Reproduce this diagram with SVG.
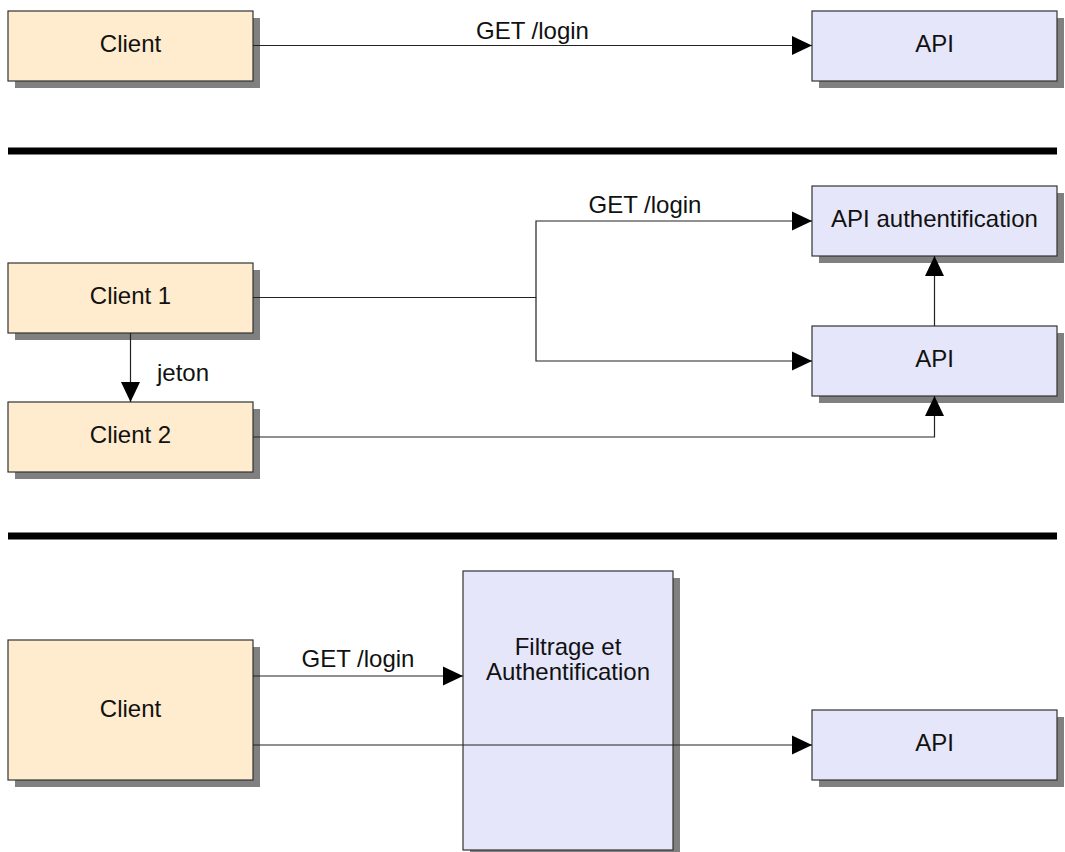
<svg xmlns="http://www.w3.org/2000/svg" width="1065" height="852" viewBox="0 0 1065 852">
  <style>
    .shadow { fill: #808080; }
    .client { fill: #ffebcd; stroke: #333333; stroke-width: 1.2; }
    .api { fill: #e6e6fa; stroke: #333333; stroke-width: 1.2; }
    .lbl { font-family: "Liberation Sans", Arial, sans-serif; font-size: 24px; fill: #111111; text-anchor: middle; }
    .edge { fill: none; stroke: #222222; stroke-width: 1.2; }
    .sep { stroke: #000000; stroke-width: 7; }
  </style>
  <defs>
    <marker id="arr" viewBox="0 0 20 20" refX="20" refY="10" markerWidth="20" markerHeight="20" markerUnits="userSpaceOnUse" orient="auto">
      <path d="M0,0.5 L20,10 L0,19.5 Z" fill="#000000"/>
    </marker>
  </defs>

  <g id="separators">
    <line class="sep" x1="8" y1="151" x2="1057" y2="151"/>
    <line class="sep" x1="8" y1="536" x2="1057" y2="536"/>
  </g>

  <!-- Section 1 -->
  <g id="client-top">
    <rect class="shadow" x="15" y="18" width="245" height="70"/>
    <rect class="client" x="8" y="11" width="245" height="70"/>
    <text class="lbl" x="130.5" y="52">Client</text>
  </g>
  <g id="api-top">
    <rect class="shadow" x="819" y="18" width="245" height="70"/>
    <rect class="api" x="812" y="11" width="245" height="70"/>
    <text class="lbl" x="934.5" y="52">API</text>
  </g>

  <!-- Section 2 -->
  <g id="client1">
    <rect class="shadow" x="15" y="270" width="245" height="70"/>
    <rect class="client" x="8" y="263" width="245" height="70"/>
    <text class="lbl" x="130.5" y="304">Client 1</text>
  </g>
  <g id="client2">
    <rect class="shadow" x="15" y="409" width="245" height="70"/>
    <rect class="client" x="8" y="402" width="245" height="70"/>
    <text class="lbl" x="130.5" y="443">Client 2</text>
  </g>
  <g id="api-auth">
    <rect class="shadow" x="819" y="193" width="245" height="70"/>
    <rect class="api" x="812" y="186" width="245" height="70"/>
    <text class="lbl" x="934.5" y="227">API authentification</text>
  </g>
  <g id="api-mid">
    <rect class="shadow" x="819" y="333" width="245" height="70"/>
    <rect class="api" x="812" y="326" width="245" height="70"/>
    <text class="lbl" x="934.5" y="367">API</text>
  </g>

  <!-- Section 3 -->
  <g id="client-bottom">
    <rect class="shadow" x="15" y="647" width="245" height="140"/>
    <rect class="client" x="8" y="640" width="245" height="140"/>
    <text class="lbl" x="130.5" y="717">Client</text>
  </g>
  <g id="filtrage">
    <rect class="shadow" x="470" y="578" width="210" height="279"/>
    <rect class="api" x="463" y="571" width="210" height="279"/>
    <text class="lbl" x="568" y="655">Filtrage et</text>
    <text class="lbl" x="568" y="680">Authentification</text>
  </g>
  <g id="api-bottom">
    <rect class="shadow" x="819" y="717" width="245" height="70"/>
    <rect class="api" x="812" y="710" width="245" height="70"/>
    <text class="lbl" x="934.5" y="751">API</text>
  </g>

  <g id="connectors">
    <path class="edge" d="M253,45.5 L812,45.5" marker-end="url(#arr)"/>
    <text class="lbl" x="532.5" y="39">GET /login</text>

    <path class="edge" d="M253,297.5 L536,297.5 L536,221 L812,221" marker-end="url(#arr)"/>
    <path class="edge" d="M536,297.5 L536,361 L812,361" marker-end="url(#arr)"/>
    <text class="lbl" x="645" y="213">GET /login</text>

    <path class="edge" d="M130.5,333 L130.5,402" marker-end="url(#arr)"/>
    <text class="lbl" x="157" y="381" style="text-anchor:start">jeton</text>

    <path class="edge" d="M934.5,326 L934.5,256" marker-end="url(#arr)"/>
    <path class="edge" d="M253,437 L934.5,437 L934.5,396" marker-end="url(#arr)"/>

    <path class="edge" d="M253,676 L463,676" marker-end="url(#arr)"/>
    <text class="lbl" x="358" y="667">GET /login</text>
    <path class="edge" d="M253,745 L812,745" marker-end="url(#arr)"/>
  </g>
</svg>
